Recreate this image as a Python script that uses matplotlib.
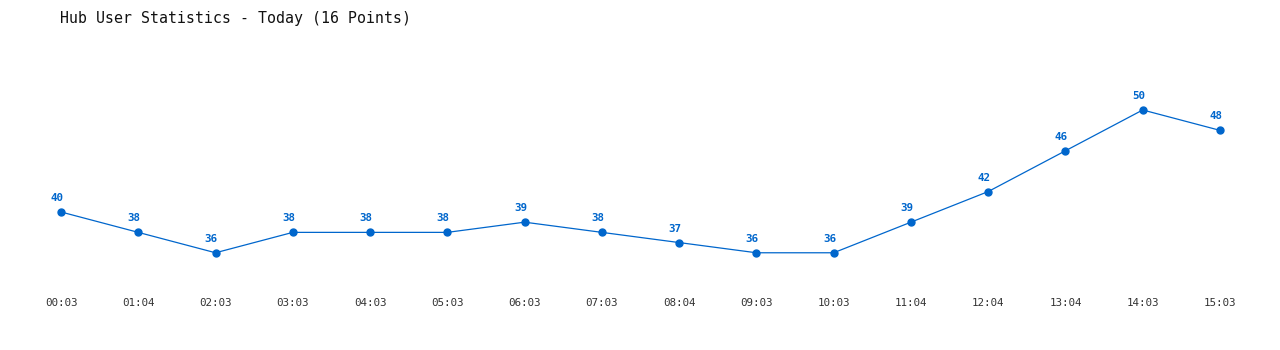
import matplotlib
matplotlib.use('Agg')
import matplotlib.pyplot as plt

# Hub user statistics, today
times = ['00:03', '01:04', '02:03', '03:03', '04:03', '05:03', '06:03', '07:03',
         '08:04', '09:03', '10:03', '11:04', '12:04', '13:04', '14:03', '15:03']
users = [40, 38, 36, 38, 38, 38, 39, 38, 37, 36, 36, 39, 42, 46, 50, 48]

blue = '#0066cc'
W, H = 1280, 350

fig = plt.figure(figsize=(W / 100, H / 100), dpi=100)
# axes placed in pixel terms: x 61..1220, y 30..290
ax = fig.add_axes([61 / W, 1 - 290 / H, (1220 - 61) / W, (290 - 30) / H])

x = list(range(len(users)))
ax.plot(x, users, color=blue, lw=0.9, marker='o', ms=5, clip_on=False)
for xi, v in zip(x, users):
    ax.annotate(str(v), (xi, v), xytext=(-3, 6.5), textcoords='offset points',
                ha='center', va='bottom', fontsize=7.8, fontweight='bold',
                color=blue, family='DejaVu Sans Mono')

ax.set_xlim(0, 15)
ax.set_ylim(40 - 7.65, 40 + 17.84)
ax.set_xticks(x)
ax.set_xticklabels(times, family='DejaVu Sans Mono', fontsize=7.8, color='#333333')
ax.tick_params(axis='x', length=0, pad=6)
ax.set_yticks([])
for s in ax.spines.values():
    s.set_visible(False)

fig.text(60 / W, 1 - 18 / H, 'Hub User Statistics - Today (16 Points)',
         family='DejaVu Sans Mono', fontsize=10.7, va='center', ha='left', color='#111111')

fig.savefig('out.png', dpi=100)
